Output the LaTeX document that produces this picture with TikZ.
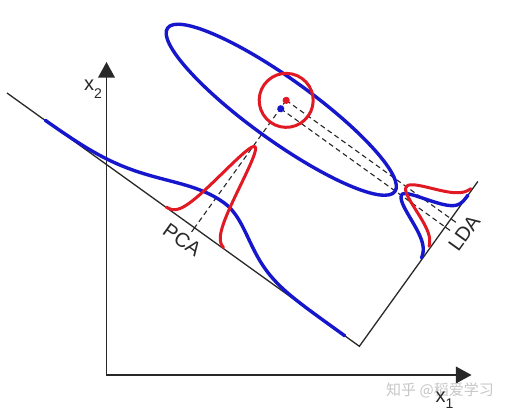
\documentclass[tikz,border=0pt]{standalone}
\usepackage{fontspec}
\setmainfont{Liberation Sans}
\newfontfamily\cjkfont{Noto Sans CJK SC}
\usetikzlibrary{arrows.meta}
\definecolor{bluecol}{RGB}{22,22,205}
\definecolor{redcol}{RGB}{225,25,35}
\definecolor{axiscol}{RGB}{40,40,40}
\begin{document}
\begin{tikzpicture}[x=1pt,y=1pt,
  axisline/.style={draw=axiscol, line width=1.3pt},
  dashline/.style={draw=black!85, line width=1.1pt, dash pattern=on 5pt off 3.5pt},
  tickline/.style={draw=black!85, line width=1.1pt},
  bluecurve/.style={draw=bluecol, line width=3.4pt, line cap=round, line join=round},
  redcurve/.style={draw=redcol, line width=3pt, line cap=round, line join=round},
  lbl/.style={font=\fontsize{20}{20}\selectfont, inner sep=0pt, text=axiscol},
  wmark/.style={font=\cjkfont\fontsize{15}{15}\selectfont, inner sep=0pt, text=black!22}
]
\fill[white] (0,0) rectangle (509,414);
\useasboundingbox (0,0) rectangle (509,414);

% main axes
\coordinate (orig) at (106.5,39);
\coordinate (ytip) at (106.5,352);
\coordinate (xtip) at (471.5,39);
\draw[axisline, {Triangle[length=15.6pt,width=16.7pt]}-{Triangle[length=15.6pt,width=16.7pt]}] (ytip) -- (orig) -- (xtip);

\node[lbl] (xtwo) at (93,325) {x\raisebox{-8pt}{\fontsize{14}{14}\selectfont 2}};
\node[wmark] (wm) at (440,24) {知乎 @稻爱学习};
\node[lbl] (xone) at (444.5,14) {x\raisebox{-6pt}{\fontsize{14}{14}\selectfont 1}};

\begin{scope}[shift={(7,321)}, rotate=-35.71]
  \coordinate (pcaL) at (0,0);
  \coordinate (corner) at (434,0);
  \coordinate (ldaT) at (434,203);
  \coordinate (R) at (231,157);
  \coordinate (B) at (231.5,147);
  \coordinate (E) at (232.5,146.5);
  \coordinate (Rl) at (434,157);
  \coordinate (Bl) at (434,147);
  \coordinate (Rlt) at (440,157);
  \coordinate (Blt) at (440,147);
  \coordinate (Rp) at (231,0);
  \coordinate (Rpt) at (231,-5);

  % projection axes
  \draw[axisline] (pcaL) -- (corner) -- (ldaT);

  % projection lines
  \draw[dashline] (R) -- (Rl);
  \draw[dashline] (B) -- (Bl);
  \draw[dashline] (R) -- (Rp);
  \draw[tickline] (Rp) -- (Rpt);
  \draw[tickline] (Rl) -- (Rlt);
  \draw[tickline] (Bl) -- (Blt);

  % blue class
  \draw[bluecurve] (E) ellipse [x radius=140, y radius=31];
  \draw[bluecurve] plot[domain=47:416, samples=220]
    (\x, {(\x<240) ? (37.5*exp(-0.5*((\x-240)/59)^2)) : (37.5*exp(-0.5*((\x-240)/41)^2))});
  \draw[bluecurve] plot[domain=108:186, samples=140]
    ({434 - ((\x<148) ? (54*exp(-0.5*((\x-148)/14.5)^2)) : (54*exp(-0.5*((\x-148)/10)^2)))}, \x);

  % red class
  \draw[redcurve] (R) circle [radius=27];
  \draw[redcurve] plot[domain=196:266, samples=160]
    (\x, {101*exp(-0.5*((\x-232.7)/10.8)^2)});
  \draw[redcurve] plot[domain=122:193, samples=140]
    ({434-55*exp(-0.5*((\x-157)/13.5)^2)}, \x);

  % means
  \fill[redcol] (R) circle [radius=3.6];
  \fill[bluecol] (B) circle [radius=3.6];

  % labels
  \node[lbl, rotate=-35.71] (pcalbl) at (228,-17) {PCA};
  \node[lbl, rotate=54.29] (ldalbl) at (453,153) {LDA};
\end{scope}
\end{tikzpicture}
\end{document}
